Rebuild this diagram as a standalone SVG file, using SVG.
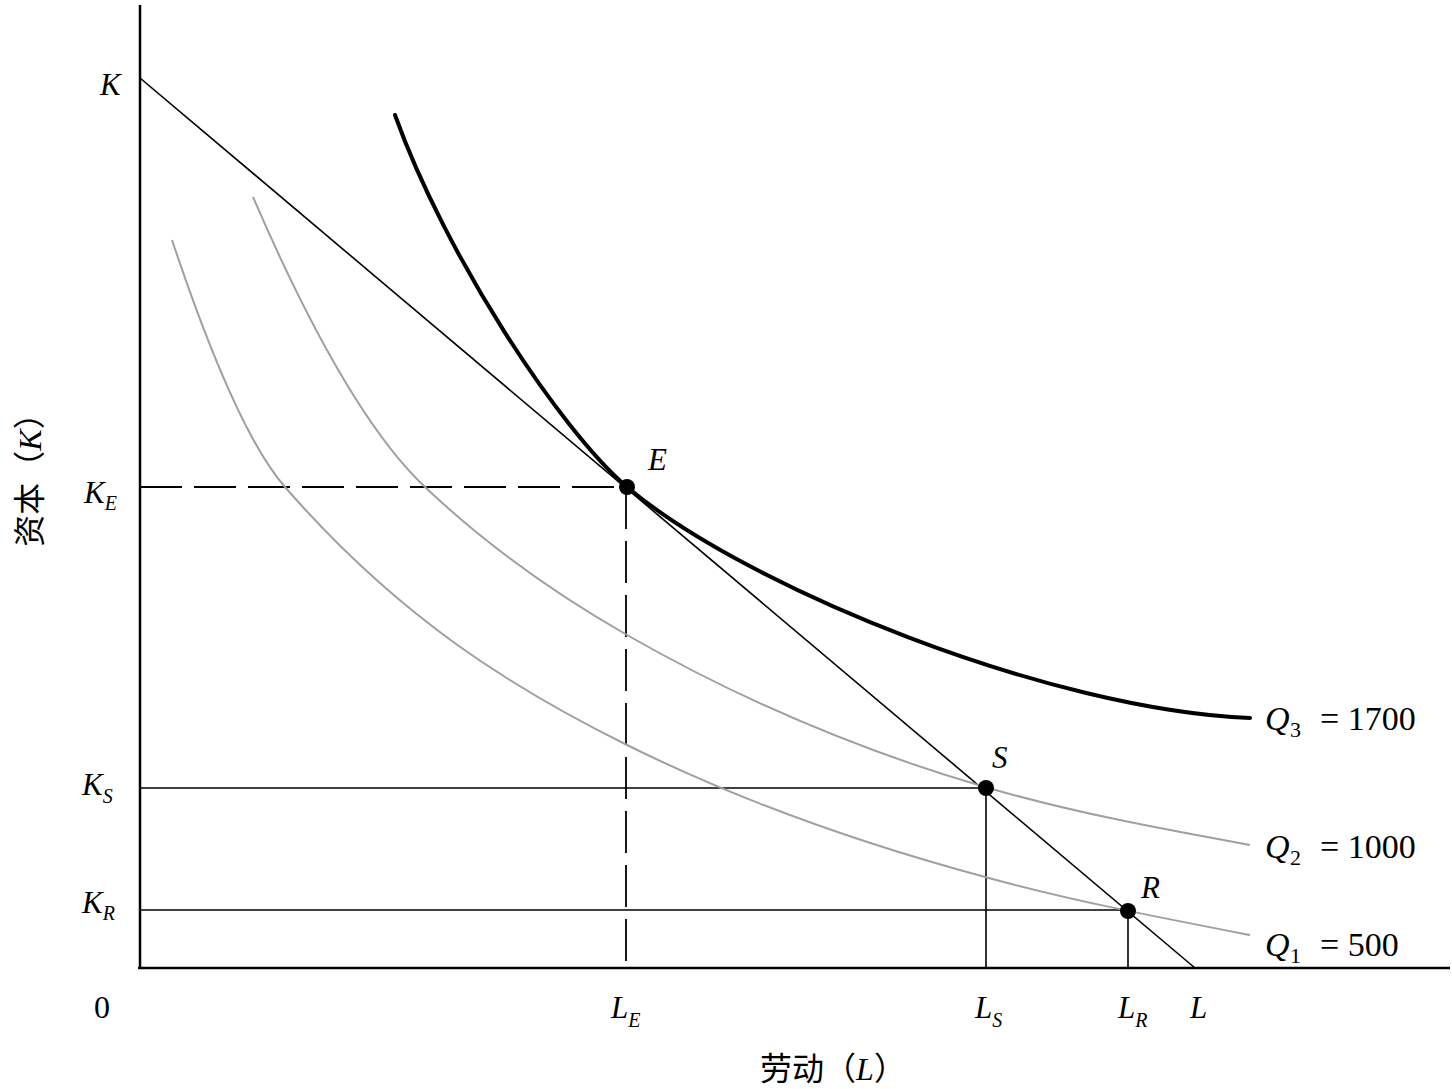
<svg xmlns="http://www.w3.org/2000/svg" width="1452" height="1089" viewBox="0 0 1452 1089">
<style>
.ax{stroke:#000;stroke-width:2.5;fill:none}
.ln{stroke:#000;stroke-width:1.6;fill:none}
.dash{stroke:#000;stroke-width:1.8;fill:none;stroke-dasharray:42 12}
.q3{stroke:#000;stroke-width:4;fill:none;stroke-linecap:round}
.qg{stroke:#a0a0a0;stroke-width:2;fill:none}
.it{font-family:"Liberation Serif",serif;font-style:italic;font-size:31px;fill:#000}
.sub{font-family:"Liberation Serif",serif;font-style:italic;font-size:20px;fill:#000}
.num{font-family:"Liberation Serif",serif;font-size:34px;fill:#000}
.qi{font-family:"Liberation Serif",serif;font-style:italic;font-size:34px;fill:#000}
.subn{font-family:"Liberation Serif",serif;font-size:22px;fill:#000}
.cjk{font-family:"Noto Sans CJK SC","Liberation Serif",serif;font-size:32px;fill:#000}
.dot{fill:#000}
</style>
<rect width="1452" height="1089" fill="#fff"/>
<g id="axes">
<line class="ax" x1="140" y1="5" x2="140" y2="968"/>
<line class="ax" x1="138" y1="968" x2="1450" y2="968"/>
</g>
<g id="connectors">
<line class="ln" x1="140" y1="78" x2="1195" y2="968"/>
<line class="dash" x1="140" y1="487" x2="627" y2="487"/>
<line class="dash" x1="626" y1="487" x2="626" y2="968"/>
<line class="ln" x1="140" y1="788" x2="986" y2="788"/>
<line class="ln" x1="986" y1="788" x2="986" y2="968"/>
<line class="ln" x1="140" y1="910" x2="1128" y2="910"/>
<line class="ln" x1="1128" y1="910" x2="1128" y2="968"/>
</g>
<g id="curves">
<path id="Q1" class="qg" d="M172,240 C209.7,353 247.3,443.7 285,487 C399,618 513,688.5 627,745 C746,804 866,845 985,877 C1073,901 1162,918 1250,935"/>
<path id="Q2" class="qg" d="M253,197 C310,329 367.7,433 425,487 C492,550.5 560,596.7 627,635 C746,703 866,752.4 985,787 C1073,812.6 1162,829 1250,845"/>
<path id="Q3" class="q3" d="M395,115 C445,255 560,430 627,487 C747,588 1050,710 1250,718"/>
</g>
<g id="points">
<circle class="dot" cx="627" cy="487" r="8"/>
<circle class="dot" cx="986" cy="788" r="8"/>
<circle class="dot" cx="1128" cy="911" r="8"/>
</g>
<g id="labels">
<text class="it" x="100" y="95">K</text>
<text class="it" x="84" y="503">K<tspan class="sub" dy="7">E</tspan></text>
<text class="it" x="82" y="795">K<tspan class="sub" dy="8">S</tspan></text>
<text class="it" x="82" y="913">K<tspan class="sub" dy="7">R</tspan></text>
<text class="num" x="94" y="1018" style="font-size:32px">0</text>
<text class="it" x="611" y="1018">L<tspan class="sub" dy="9">E</tspan></text>
<text class="it" x="975" y="1018">L<tspan class="sub" dy="9">S</tspan></text>
<text class="it" x="1118" y="1018">L<tspan class="sub" dy="9">R</tspan></text>
<text class="it" x="1190" y="1018">L</text>
<text class="it" x="648" y="470">E</text>
<text class="it" x="992" y="768">S</text>
<text class="it" x="1141" y="898">R</text>
<text class="qi" x="1265" y="730">Q</text><text class="subn" x="1290" y="737">3</text><text class="num" x="1320" y="730">= 1700</text>
<text class="qi" x="1265" y="858">Q</text><text class="subn" x="1290" y="865">2</text><text class="num" x="1320" y="858">= 1000</text>
<text class="qi" x="1265" y="956">Q</text><text class="subn" x="1290" y="963">1</text><text class="num" x="1320" y="956">= 500</text>
<text class="cjk" x="833" y="1080" text-anchor="middle">劳动（<tspan font-family="Liberation Serif" font-style="italic">L</tspan>）</text>
<text class="cjk" transform="translate(41,472) rotate(-90)" text-anchor="middle">资本（<tspan font-family="Liberation Serif" font-style="italic">K</tspan>）</text>
</g>
</svg>
